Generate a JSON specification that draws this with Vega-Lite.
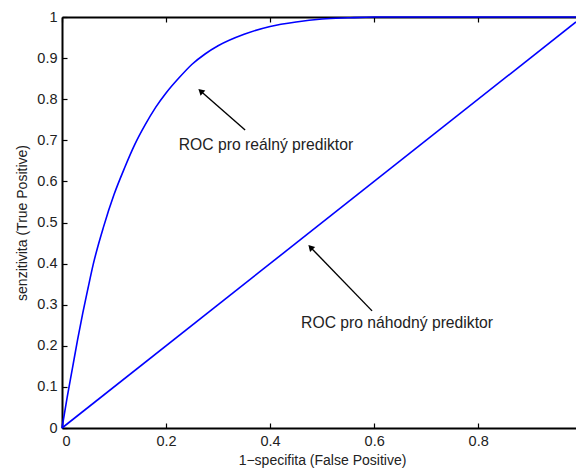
{
  "$schema": "https://vega.github.io/schema/vega-lite/v6.json",
  "width": 514,
  "height": 411,
  "autosize": {"type": "none"},
  "padding": {"left": 62, "top": 17, "right": 0, "bottom": 40},
  "background": "white",
  "config": {
    "view": {"stroke": null},
    "font": "Liberation Sans",
    "axis": {"grid": false, "domainColor": "#000", "domainWidth": 2, "tickColor": "#000", "tickWidth": 1.2, "tickSize": -5, "labelFont": "Liberation Sans", "labelFontSize": 14.5, "labelColor": "#222", "titleFont": "Liberation Sans", "titleFontWeight": "normal", "titleFontSize": 14, "titleColor": "#222"}
  },
  "datasets": {
    "curves": [
      {"series": "real", "x": 0, "y": 0},
      {"series": "real", "x": 0.01, "y": 0.075},
      {"series": "real", "x": 0.02, "y": 0.145},
      {"series": "real", "x": 0.03, "y": 0.215},
      {"series": "real", "x": 0.04, "y": 0.28},
      {"series": "real", "x": 0.05, "y": 0.34},
      {"series": "real", "x": 0.06, "y": 0.398},
      {"series": "real", "x": 0.08, "y": 0.49},
      {"series": "real", "x": 0.10, "y": 0.568},
      {"series": "real", "x": 0.12, "y": 0.632},
      {"series": "real", "x": 0.14, "y": 0.69},
      {"series": "real", "x": 0.16, "y": 0.738},
      {"series": "real", "x": 0.18, "y": 0.78},
      {"series": "real", "x": 0.20, "y": 0.815},
      {"series": "real", "x": 0.225, "y": 0.852},
      {"series": "real", "x": 0.25, "y": 0.885},
      {"series": "real", "x": 0.275, "y": 0.91},
      {"series": "real", "x": 0.30, "y": 0.93},
      {"series": "real", "x": 0.35, "y": 0.958},
      {"series": "real", "x": 0.40, "y": 0.977},
      {"series": "real", "x": 0.45, "y": 0.988},
      {"series": "real", "x": 0.50, "y": 0.995},
      {"series": "real", "x": 0.55, "y": 0.998},
      {"series": "real", "x": 0.60, "y": 1.0},
      {"series": "real", "x": 0.988, "y": 1.0},
      {"series": "random", "x": 0, "y": 0},
      {"series": "random", "x": 0.988, "y": 0.988}
    ],
    "arrows": [
      {"x": 0.352, "y": 0.725, "x2": 0.268, "y2": 0.818, "angle": 312},
      {"x": 0.596, "y": 0.285, "x2": 0.479, "y2": 0.438, "angle": 316}
    ],
    "labels": [
      {"x": 0.392, "y": 0.689, "text": "ROC pro reálný prediktor"},
      {"x": 0.644, "y": 0.255, "text": "ROC pro náhodný prediktor"}
    ]
  },
  "layer": [
    {
      "data": {"name": "curves"},
      "mark": {"type": "line", "color": "#0000ff", "strokeWidth": 1.6, "interpolate": "monotone"},
      "encoding": {
        "x": {"field": "x", "type": "quantitative", "scale": {"domain": [0, 0.988], "nice": false, "zero": false},
              "axis": {"values": [0, 0.2, 0.4, 0.6, 0.8], "format": "~g", "title": "1−specifita (False Positive)", "labelPadding": 11, "titleX": 260, "titlePadding": 6}},
        "y": {"field": "y", "type": "quantitative", "scale": {"domain": [0, 1], "nice": false},
              "axis": {"values": [0, 0.1, 0.2, 0.3, 0.4, 0.5, 0.6, 0.7, 0.8, 0.9, 1], "format": "~g", "title": "senzitivita (True Positive)", "labelPadding": 10, "titlePadding": 7}},
        "detail": {"field": "series", "type": "nominal"}
      }
    },
    {
      "data": {"name": "arrows"},
      "mark": {"type": "rule", "color": "#000", "strokeWidth": 1.4},
      "encoding": {
        "x": {"field": "x", "type": "quantitative", "axis": {"orient": "top", "values": [0, 0.2, 0.4, 0.6, 0.8], "labels": false, "title": null}},
        "y": {"field": "y", "type": "quantitative", "axis": null},
        "x2": {"field": "x2"},
        "y2": {"field": "y2"}
      }
    },
    {
      "data": {"name": "arrows"},
      "mark": {"type": "point", "shape": "triangle", "filled": true, "fill": "#000", "stroke": null, "opacity": 1, "size": 50},
      "encoding": {
        "x": {"field": "x2", "type": "quantitative", "axis": null},
        "y": {"field": "y2", "type": "quantitative", "axis": null},
        "angle": {"field": "angle", "type": "quantitative", "scale": null}
      }
    },
    {
      "data": {"name": "labels"},
      "mark": {"type": "text", "font": "Liberation Sans", "fontSize": 15.7, "color": "#222", "align": "center", "baseline": "middle"},
      "encoding": {
        "x": {"field": "x", "type": "quantitative", "axis": null},
        "y": {"field": "y", "type": "quantitative", "axis": null},
        "text": {"field": "text", "type": "nominal"}
      }
    }
  ],
  "resolve": {"axis": {"x": "independent", "y": "independent"}}
}
